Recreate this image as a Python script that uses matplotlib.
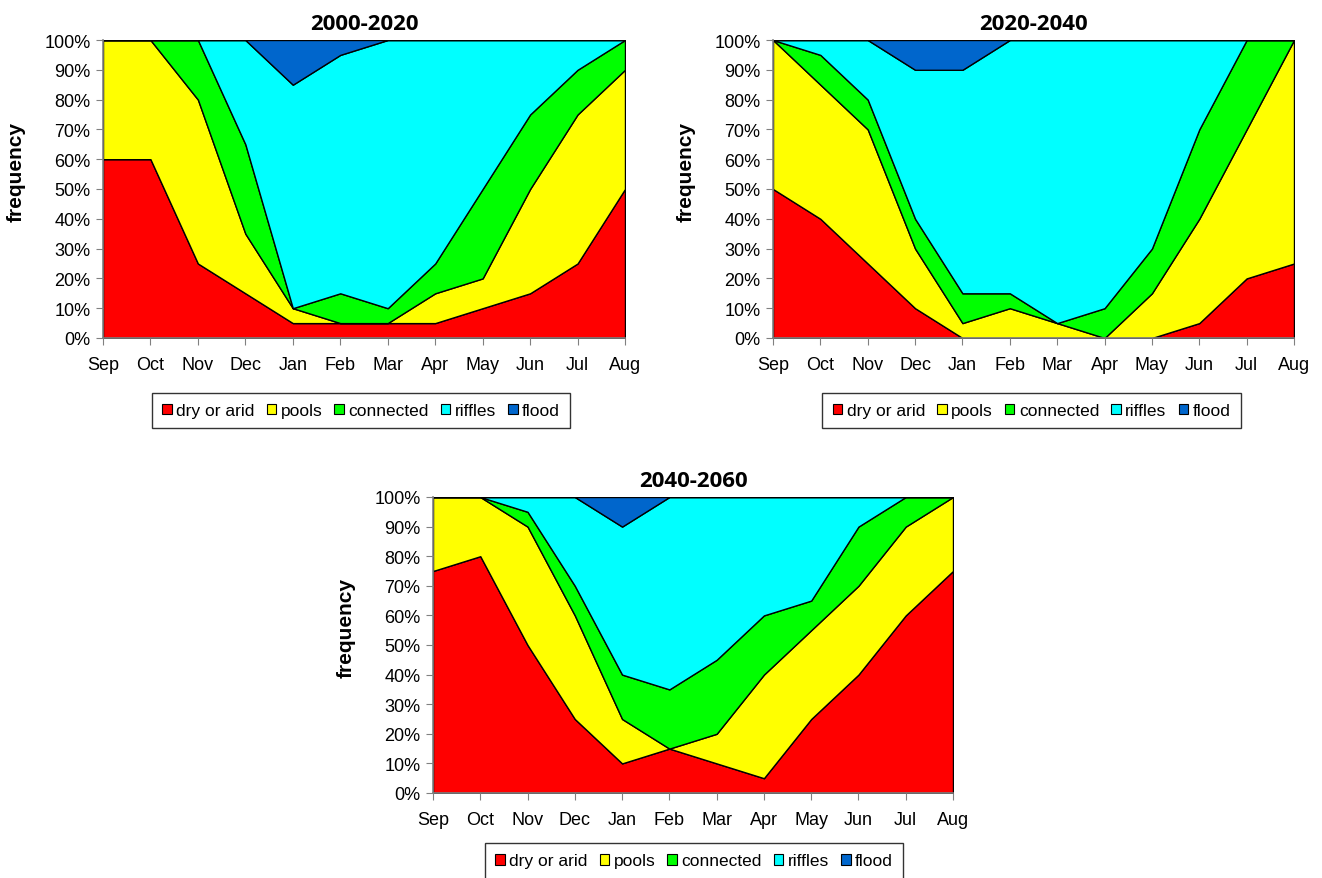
import matplotlib.pyplot as plt
from matplotlib.patches import Patch

months = ['Sep', 'Oct', 'Nov', 'Dec', 'Jan', 'Feb', 'Mar', 'Apr', 'May', 'Jun', 'Jul', 'Aug']
classes = ['dry or arid', 'pools', 'connected', 'riffles', 'flood']
colors = ['#FF0000', '#FFFF00', '#00FF00', '#00FFFF', '#0066CC']

# frequency (%) of each flow class per month, 2000-2020
dry_2000 = [60, 60, 25, 15, 5, 5, 5, 5, 10, 15, 25, 50]
pools_2000 = [40, 40, 55, 20, 5, 0, 0, 10, 10, 35, 50, 40]
connected_2000 = [0, 0, 20, 30, 0, 10, 5, 10, 30, 25, 15, 10]
riffles_2000 = [0, 0, 0, 35, 75, 80, 90, 75, 50, 25, 10, 0]
flood_2000 = [0, 0, 0, 0, 15, 5, 0, 0, 0, 0, 0, 0]

# 2020-2040
dry_2020 = [50, 40, 25, 10, 0, 0, 0, 0, 0, 5, 20, 25]
pools_2020 = [50, 45, 45, 20, 5, 10, 5, 0, 15, 35, 50, 75]
connected_2020 = [0, 10, 10, 10, 10, 5, 0, 10, 15, 30, 30, 0]
riffles_2020 = [0, 5, 20, 50, 75, 85, 95, 90, 70, 30, 0, 0]
flood_2020 = [0, 0, 0, 10, 10, 0, 0, 0, 0, 0, 0, 0]

# 2040-2060
dry_2040 = [75, 80, 50, 25, 10, 15, 10, 5, 25, 40, 60, 75]
pools_2040 = [25, 20, 40, 35, 15, 0, 10, 35, 30, 30, 30, 25]
connected_2040 = [0, 0, 5, 10, 15, 20, 25, 20, 10, 20, 10, 0]
riffles_2040 = [0, 0, 5, 30, 50, 65, 55, 40, 35, 10, 0, 0]
flood_2040 = [0, 0, 0, 0, 10, 0, 0, 0, 0, 0, 0, 0]

W, H = 1322, 879
fig = plt.figure(figsize=(W / 100, H / 100), dpi=100)
plt.rcParams['font.family'] = ['Liberation Sans', 'DejaVu Sans']


def px_axes(x0, y0, x1, y1):
    return fig.add_axes([x0 / W, 1 - y1 / H, (x1 - x0) / W, (y1 - y0) / H])


def draw_panel(ax, title, series, legend_xy):
    x = range(len(months))
    ax.stackplot(x, *series, colors=colors, edgecolor='black', linewidth=1.0)
    ax.set_xlim(0, len(months) - 1)
    ax.set_ylim(0, 100)
    ax.set_xticks(list(x))
    ax.set_xticklabels(months, fontsize=13)
    ax.set_yticks(range(0, 101, 10))
    ax.set_yticklabels(['%d%%' % v for v in range(0, 101, 10)], fontsize=13)
    ax.tick_params(axis='both', direction='out', length=5, color='#808080', pad=4)
    ax.tick_params(axis='x', pad=8)
    for s in ['top', 'right']:
        ax.spines[s].set_visible(False)
    for s in ['left', 'bottom']:
        ax.spines[s].set_color('#808080')
        ax.spines[s].set_linewidth(1.2)
    ax.set_ylabel('frequency', fontsize=15, fontweight='bold')
    ax.yaxis.set_label_coords(-0.148, 0.56)
    ax.set_title(title, fontsize=16, fontweight='bold', family=['Open Sans', 'DejaVu Sans'], pad=8)
    handles = [Patch(facecolor=c, edgecolor='black', linewidth=0.8) for c in colors]
    leg = fig.legend(handles, classes, loc='center', bbox_to_anchor=legend_xy, ncol=5,
                     fontsize=12.5, frameon=True, fancybox=False, edgecolor='black',
                     handlelength=0.55, handleheight=0.55, handletextpad=0.25,
                     columnspacing=0.7, borderpad=0.6)
    leg.get_frame().set_linewidth(1.0)


ax1 = px_axes(103, 41, 625, 339)
draw_panel(ax1, '2000-2020',
           [dry_2000, pools_2000, connected_2000, riffles_2000, flood_2000],
           (361 / W, 1 - 411.5 / H))

ax2 = px_axes(773, 41, 1294, 339)
draw_panel(ax2, '2020-2040',
           [dry_2020, pools_2020, connected_2020, riffles_2020, flood_2020],
           (1031.5 / W, 1 - 411.5 / H))

ax3 = px_axes(433, 498, 953, 794)
draw_panel(ax3, '2040-2060',
           [dry_2040, pools_2040, connected_2040, riffles_2040, flood_2040],
           (694 / W, 1 - 862 / H))

fig.savefig('out.png', dpi=100)
